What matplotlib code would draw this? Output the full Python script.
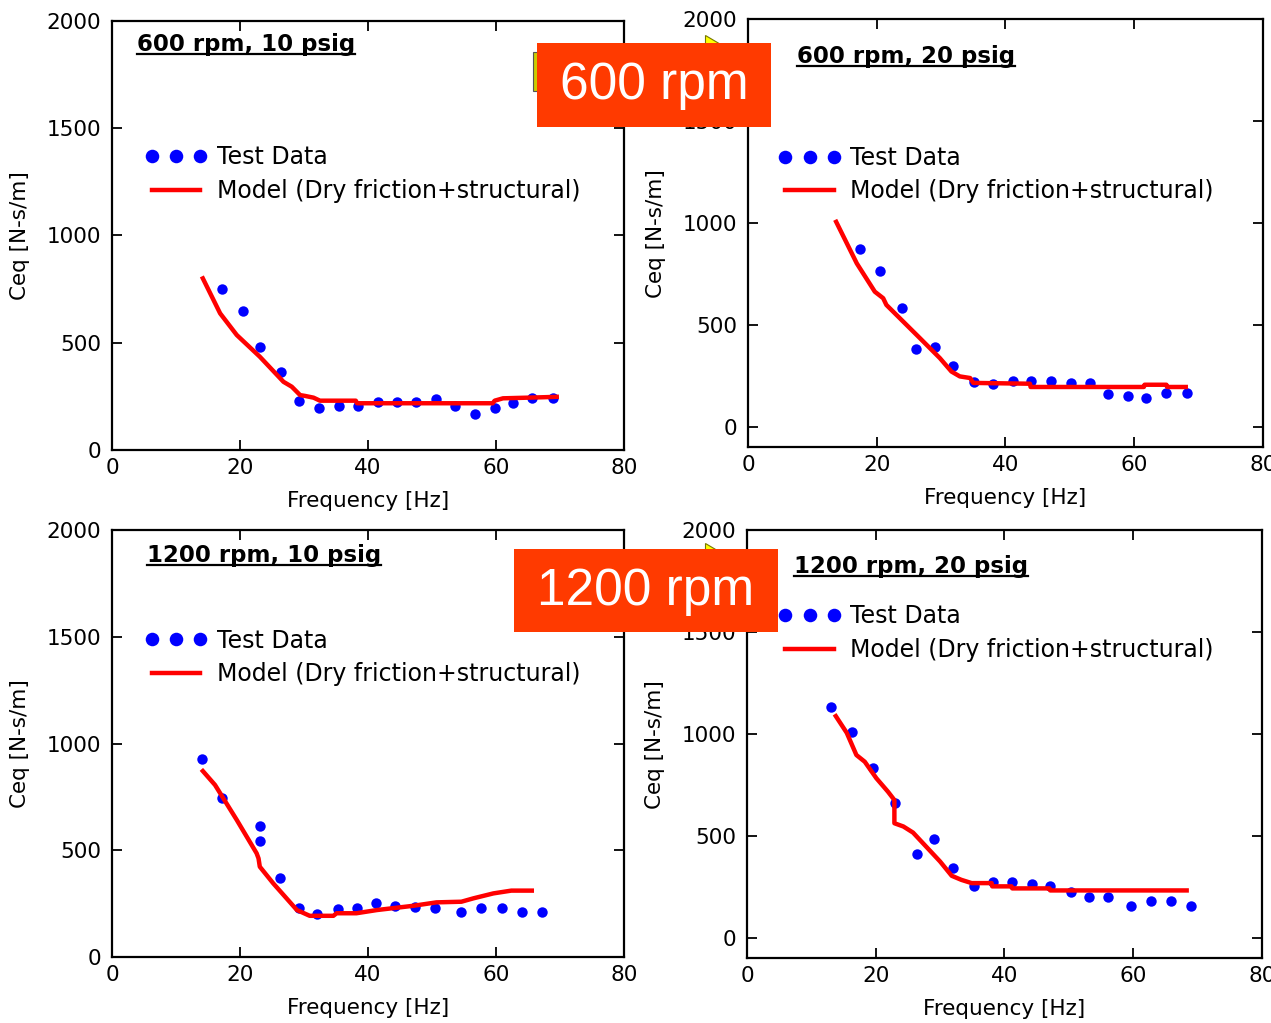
import matplotlib
matplotlib.use('Agg')
from matplotlib import pyplot as plt
from matplotlib.patches import Rectangle, Polygon
from matplotlib.lines import Line2D

plt.rcParams['font.family'] = ['DejaVu Sans']

# ---- 600 rpm, 10 psig ----
f_600_10 = [17.2, 20.4, 23.2, 26.4, 29.3, 32.3, 35.5, 38.4, 41.5, 44.5, 47.5, 50.6, 53.6, 56.7, 59.8, 62.6, 65.7, 68.9]
c_600_10 = [752, 648, 479, 364, 230, 196, 207, 207, 224, 222, 222, 238, 207, 168, 196, 218, 244, 242]
fm_600_10 = [14.2, 16.9, 19.5, 23.1, 26.8, 28.1, 29.4, 30.2, 31.5, 32.5, 38.1, 38.3, 59.5, 59.8, 61.1, 67.4, 69.5]
cm_600_10 = [800, 637, 536, 435, 318, 295, 256, 252, 244, 230, 230, 218, 218, 230, 241, 246, 248]

# ---- 600 rpm, 20 psig ----
f_600_20 = [17.4, 20.5, 24.0, 26.1, 29.0, 31.9, 35.1, 38.1, 41.1, 44.0, 47.0, 50.1, 53.1, 55.9, 59.0, 61.8, 65.0, 68.2]
c_600_20 = [872, 763, 585, 381, 391, 299, 221, 209, 225, 224, 222, 214, 216, 160, 152, 142, 165, 165]
fm_600_20 = [13.7, 16.9, 19.7, 21.0, 21.5, 26.7, 29.8, 31.6, 32.9, 34.5, 35.0, 43.8, 43.9, 61.5, 61.6, 65.0, 65.1, 68.0]
cm_600_20 = [1006, 802, 663, 631, 598, 435, 337, 271, 247, 239, 215, 211, 195, 195, 206, 206, 195, 195]

# ---- 1200 rpm, 10 psig ----
f_1200_10 = [14.1, 17.2, 23.2, 23.2, 26.3, 29.2, 32.1, 35.3, 38.3, 41.2, 44.2, 47.3, 50.5, 54.5, 57.7, 60.9, 64.1, 67.2]
c_1200_10 = [927, 743, 615, 543, 369, 228, 201, 225, 228, 254, 239, 236, 228, 209, 231, 231, 209, 209]
fm_1200_10 = [14.2, 16.1, 19.5, 22.6, 22.9, 23.1, 25.2, 28.9, 30.9, 34.6, 35.1, 38.2, 41.4, 47.1, 50.7, 54.6, 56.5, 59.6, 62.4, 65.6]
cm_1200_10 = [871, 806, 642, 486, 462, 423, 345, 220, 193, 193, 205, 205, 220, 240, 256, 259, 275, 298, 311, 311]

# ---- 1200 rpm, 20 psig ----
f_1200_20 = [13.0, 16.3, 19.6, 23.0, 26.4, 29.1, 32.0, 35.3, 38.2, 41.2, 44.2, 47.1, 50.3, 53.2, 56.1, 59.6, 62.7, 65.8, 68.9]
c_1200_20 = [1131, 1008, 833, 663, 412, 485, 340, 255, 273, 273, 263, 255, 225, 201, 201, 158, 181, 181, 158]
fm_1200_20 = [13.8, 15.5, 17.0, 18.3, 20.1, 21.9, 22.9, 22.9, 24.3, 25.8, 30.0, 31.8, 33.3, 34.9, 38.0, 38.1, 41.1, 41.2, 47.0, 47.1, 68.3]
cm_1200_20 = [1088, 1006, 897, 864, 783, 717, 676, 562, 546, 516, 374, 304, 284, 268, 268, 252, 252, 242, 242, 232, 232]

titles = ['600 rpm, 10 psig', '600 rpm, 20 psig', '1200 rpm, 10 psig', '1200 rpm, 20 psig']
x_ticks = [0, 20, 40, 60, 80]
y_ticks = [0, 500, 1000, 1500, 2000]

fig = plt.figure(figsize=(12.71, 10.23), dpi=100)


def panel(rect, f, c, fm, cm, title, title_xy, ylim, leg_xy):
    ax = fig.add_axes(rect)
    ax.plot(f, c, 'o', color='#0000ff', ms=7.5, mec='none', label='Test Data', zorder=2)
    ax.plot(fm, cm, '-', color='#ff0000', lw=3.2, label='Model (Dry friction+structural)', zorder=3)
    ax.set_xlim(0, 80)
    ax.set_ylim(*ylim)
    ax.set_xticks(x_ticks)
    ax.set_yticks(y_ticks)
    ax.tick_params(direction='in', length=7, width=1.3, top=True, right=True, labelsize=15.5)
    ax.tick_params(axis='x', pad=6)
    ax.tick_params(axis='y', pad=8)
    for s in ax.spines.values():
        s.set_linewidth(1.6)
    ax.set_xlabel('Frequency [Hz]', fontsize=15.5, labelpad=9)
    ax.set_ylabel('Ceq [N-s/m]', fontsize=15.5, labelpad=12)
    t = ax.text(title_xy[0], title_xy[1], title, transform=ax.transAxes, fontsize=16.5,
                fontweight='bold', ha='left', va='center')
    ax.legend(loc='center left', bbox_to_anchor=leg_xy, frameon=False, numpoints=3,
              fontsize=17, handlelength=2.65, handletextpad=0.4, labelspacing=0.4,
              markerscale=1.3, borderpad=0, borderaxespad=0)
    return ax, t


p1 = panel([0.0881, 0.5601, 0.4028, 0.4194], f_600_10, c_600_10, fm_600_10, cm_600_10,
           titles[0], (0.049, 0.944), (0, 2000), (0.064, 0.643))
p2 = panel([0.5885, 0.5630, 0.4052, 0.4180], f_600_20, c_600_20, fm_600_20, cm_600_20,
           titles[1], (0.095, 0.914), (-100, 2000), (0.059, 0.637))
p3 = panel([0.0881, 0.0645, 0.4028, 0.4174], f_1200_10, c_1200_10, fm_1200_10, cm_1200_10,
           titles[2], (0.068, 0.941), (0, 2000), (0.064, 0.702))
p4 = panel([0.5877, 0.0635, 0.4052, 0.4180], f_1200_20, c_1200_20, fm_1200_20, cm_1200_20,
           titles[3], (0.091, 0.916), (-100, 2000), (0.061, 0.760))

# underline the panel titles
fig.canvas.draw()
r = fig.canvas.get_renderer()
for ax, t in [p1, p2, p3, p4]:
    bb = t.get_window_extent(r).transformed(fig.transFigure.inverted())
    fig.add_artist(Line2D([bb.x0, bb.x1], [bb.y0 + 0.002, bb.y0 + 0.002], color='black', lw=1.6))

# little yellow slide leftovers
for tri in [[(0.5547, 0.9658), (0.5547, 0.9560), (0.5680, 0.9560)],
            [(0.5547, 0.4692), (0.5547, 0.4594), (0.5680, 0.4594)]]:
    fig.add_artist(Polygon(tri, closed=True, facecolor='#ffff00', edgecolor='#777700', lw=0.8, zorder=9))
fig.add_artist(Rectangle((0.4190, 0.9110), 0.0045, 0.0380, facecolor='#cccc00', edgecolor='#555555',
                         lw=0.8, zorder=9))

# orange labels
fig.add_artist(Rectangle((0.4225, 0.8759), 0.1841, 0.0821, facecolor='#ff3a00', edgecolor='none', zorder=10))
fig.text(0.5146, 0.9160, '600 rpm', color='white', fontsize=37, family='Liberation Sans',
         ha='center', va='center', zorder=11)
fig.add_artist(Rectangle((0.4044, 0.3822), 0.2077, 0.0811, facecolor='#ff3a00', edgecolor='none', zorder=10))
fig.text(0.5083, 0.4220, '1200 rpm', color='white', fontsize=37, family='Liberation Sans',
         ha='center', va='center', zorder=11)

fig.savefig('out.png', dpi=100)
